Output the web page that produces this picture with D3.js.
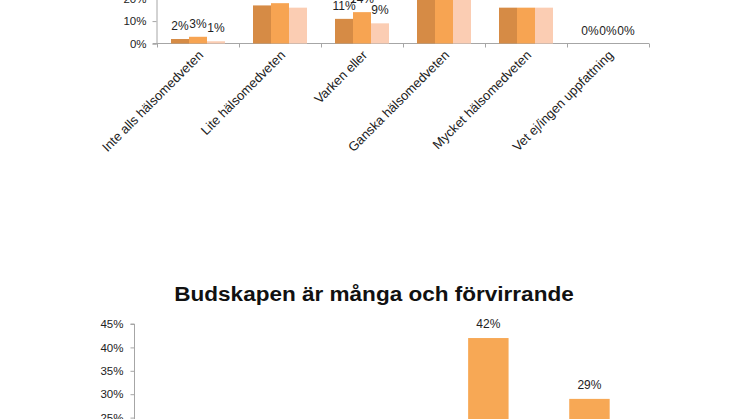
<!DOCTYPE html>
<html>
<head>
<meta charset="utf-8">
<script src="https://cdn.jsdelivr.net/npm/d3@7"></script>
<style>
  html, body { margin: 0; padding: 0; background: #fff; overflow: hidden; }
  svg { display: block; font-family: "Liberation Sans", Arial, sans-serif; }
  .axis path, .axis line { stroke: #a6a6a6; }
  .axis text { fill: #222; }
</style>
</head>
<body>
<div id="chart"></div>
<script>
// Övre diagrammet: hälsomedvetenhet, tre serier
const topCategories = ["Inte alls hälsomedveten", "Lite hälsomedveten", "Varken eller",
    "Ganska hälsomedveten", "Mycket hälsomedveten", "Vet ej/ingen uppfattning"];
const topSeries = ["Serie 1", "Serie 2", "Serie 3"];
const topValues = [
    [2, 3, 1],
    [17, 18, 16],
    [11, 14, 9],
    [36, 35, 38],
    [16, 16, 16],
    [0, 0, 0]
];
const topTicks = [0, 10, 20, 30, 40, 50];
const topColors = ["#d68b45", "#f7a452", "#fbcdb3"];

// Nedre diagrammet: "Budskapen är många och förvirrande"
const bottomTitle = "Budskapen är många och förvirrande";
const bottomCategories = ["Instämmer inte alls", "Instämmer inte", "Varken eller",
    "Instämmer delvis", "Instämmer helt"];
const bottomValues = [3, 10, 16, 42, 29];
const bottomTicks = [0, 5, 10, 15, 20, 25, 30, 35, 40, 45];

const width = 746, height = 419;

const svg = d3.select("#chart").append("svg")
    .attr("width", width)
    .attr("height", height);

// ---------- övre ----------
const x1 = d3.scaleBand()
    .domain(topCategories)
    .range([157, 649]);

const xs1 = d3.scaleBand()
    .domain(topSeries)
    .range([14, x1.bandwidth() - 14]);

const y1 = d3.scaleLinear()
    .domain([0, 50])
    .range([43.5, 43.5 - 5 * 22.4]);

const topG = svg.append("g");

topG.append("g")
    .attr("class", "axis")
    .attr("transform", "translate(156.5,0)")
    .call(d3.axisLeft(y1).tickValues(topTicks).tickFormat(d => d + "%").tickSize(4).tickPadding(6))
    .call(g => g.selectAll("text").attr("font-size", "11.5px"));

const xAxisTop = topG.append("g")
    .attr("class", "axis")
    .attr("transform", "translate(0,43.5)");
xAxisTop.append("line")
    .attr("x1", 153).attr("x2", x1.range()[1])
    .attr("stroke", "#a6a6a6");
xAxisTop.selectAll(".tick")
    .data(topCategories.concat(["end"]))
    .enter()
    .append("line")
    .attr("x1", (d, i) => Math.round(x1.range()[0] + i * x1.step()) + 0.5)
    .attr("x2", (d, i) => Math.round(x1.range()[0] + i * x1.step()) + 0.5)
    .attr("y1", 0).attr("y2", 4)
    .attr("stroke", "#a6a6a6");

const groups = topG.selectAll(".grp")
    .data(topCategories)
    .enter()
    .append("g")
    .attr("transform", d => `translate(${x1(d)},0)`);

groups.selectAll("rect")
    .data((d, i) => topValues[i].map((v, j) => ({ s: topSeries[j], v: v, j: j })))
    .enter()
    .append("rect")
    .attr("x", d => xs1(d.s))
    .attr("y", d => y1(d.v))
    .attr("width", xs1.bandwidth())
    .attr("height", d => y1(0) - y1(d.v))
    .attr("fill", d => topColors[d.j]);

groups.selectAll("text")
    .data((d, i) => topValues[i].map((v, j) => ({ s: topSeries[j], v: v })))
    .enter()
    .append("text")
    .attr("x", d => xs1(d.s) + xs1.bandwidth() / 2)
    .attr("y", d => y1(d.v) - 9)
    .attr("text-anchor", "middle")
    .attr("font-size", "12px")
    .attr("fill", "#222")
    .text(d => d.v + "%");

topG.selectAll(".catlabel")
    .data(topCategories)
    .enter()
    .append("text")
    .attr("transform", d => `translate(${x1(d) + x1.bandwidth() / 2 + 6},${56}) rotate(-45)`)
    .attr("text-anchor", "end")
    .attr("font-size", "13px")
    .attr("fill", "#222")
    .text(d => d);

// ---------- nedre ----------
const x2 = d3.scaleBand()
    .domain(bottomCategories)
    .range([134.5, 640]);

const y2 = d3.scaleLinear()
    .domain([0, 45])
    .range([324 + 9 * 23.4, 324]);

const bottomG = svg.append("g");

bottomG.append("text")
    .attr("transform", "translate(374,301) scale(1.1,1)")
    .attr("text-anchor", "middle")
    .attr("font-size", "20.5px")
    .attr("font-weight", "bold")
    .attr("fill", "#111")
    .text(bottomTitle);

bottomG.append("g")
    .attr("class", "axis")
    .attr("transform", "translate(134.5,0)")
    .call(d3.axisLeft(y2).tickValues(bottomTicks).tickFormat(d => d + "%").tickSize(4).tickPadding(7))
    .call(g => g.select(".domain").attr("d", `M-4,${y2(45)}H0V${y2(0)}`))
    .call(g => g.selectAll("text").attr("font-size", "11.5px"));

bottomG.append("g")
    .attr("class", "axis")
    .attr("transform", `translate(0,${y2(0)})`)
    .call(d3.axisBottom(x2).tickSize(0).tickFormat(""));

bottomG.selectAll(".bar")
    .data(bottomValues)
    .enter()
    .append("rect")
    .attr("x", (d, i) => x2(bottomCategories[i]) + x2.bandwidth() * 0.3)
    .attr("y", d => y2(d))
    .attr("width", x2.bandwidth() * 0.4)
    .attr("height", d => y2(0) - y2(d))
    .attr("fill", "#f7a855");

bottomG.selectAll(".lbl")
    .data(bottomValues)
    .enter()
    .append("text")
    .attr("x", (d, i) => x2(bottomCategories[i]) + x2.bandwidth() / 2)
    .attr("y", d => y2(d) - 10)
    .attr("text-anchor", "middle")
    .attr("font-size", "12px")
    .attr("fill", "#222")
    .text(d => d + "%");
</script>
</body>
</html>
